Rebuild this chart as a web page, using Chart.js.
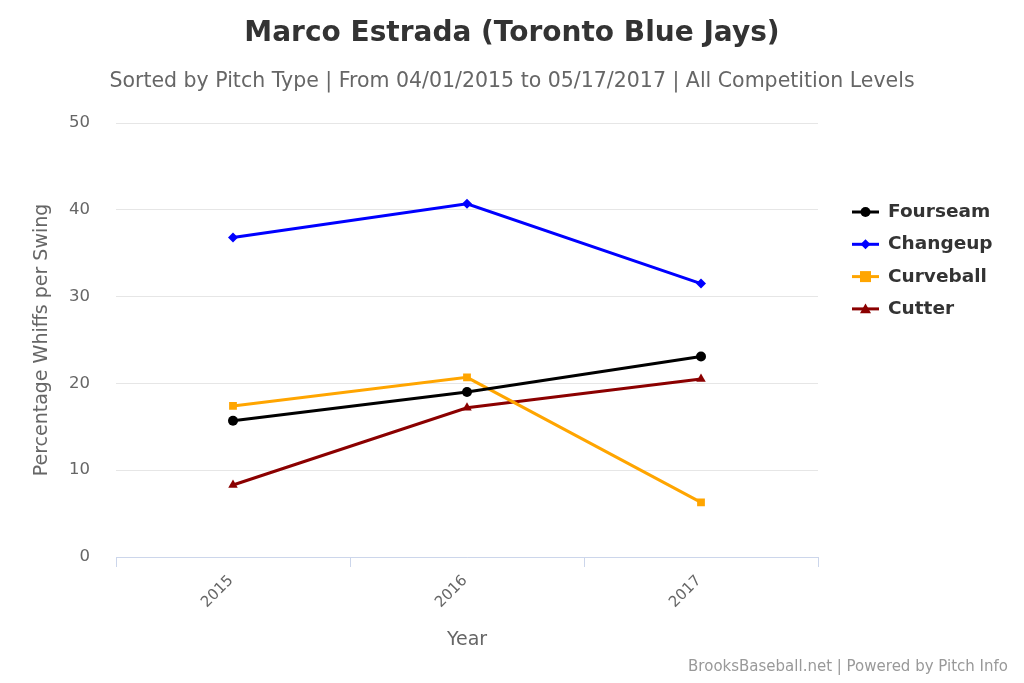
<!DOCTYPE html>
<html><head><meta charset="utf-8">
<script src="https://cdn.jsdelivr.net/npm/chart.js@4/dist/chart.umd.min.js"></script>
<style>
html,body{margin:0;padding:0;background:#fff;}
#wrap{position:relative;width:1024px;height:683px;font-family:"DejaVu Sans",sans-serif;overflow:hidden;}
#c{position:absolute;left:0;top:0;}
.t{position:absolute;white-space:nowrap;}
#title{left:0;width:1024px;top:15px;text-align:center;font-size:28px;font-weight:bold;color:#333;}
#sub{left:0;width:1024px;top:68px;text-align:center;font-size:20.5px;color:#666;}
#credits{right:16px;top:657px;font-size:15px;color:#999;}
.leg{left:888px;font-size:18.5px;font-weight:bold;color:#333;line-height:22px;}
</style></head>
<body><div id="wrap">
<canvas id="c" width="1024" height="683"></canvas>
<div class="t" id="title">Marco Estrada (Toronto Blue Jays)</div>
<div class="t" id="sub">Sorted by Pitch Type | From 04/01/2015 to 05/17/2017 | All Competition Levels</div>
<div class="t" id="credits">BrooksBaseball.net | Powered by Pitch Info</div>
<div id="legend"></div>
</div>
<script>
const years = ['2015', '2016', '2017'];
const fourseam = [15.7, 19.0, 23.1];
const changeup = [36.8, 40.7, 31.5];
const curveball = [17.4, 20.7, 6.3];
const cutter = [8.3, 17.2, 20.5];
const seriesNames = ['Fourseam', 'Changeup', 'Curveball', 'Cutter'];
const seriesColors = ['#000000', '#0000ff', '#ffa500', '#8b0000'];
const seriesShapes = ['circle', 'rectRot', 'rect', 'triangle'];
const seriesRadius = [5, 5, 5.5, 5.5];
const seriesData = [fourseam, changeup, curveball, cutter];
const yTitle = 'Percentage Whiffs per Swing';
const xTitle = 'Year';

const legendTop = 200, legendGap = 32.3;
const legendDiv = document.getElementById('legend');
seriesNames.forEach((n, i) => {
  const d = document.createElement('div');
  d.className = 't leg';
  d.style.top = (legendTop + i * legendGap) + 'px';
  d.textContent = n;
  legendDiv.appendChild(d);
});

function drawMarker(ctx, shape, x, y, r, color) {
  ctx.save();
  ctx.fillStyle = color;
  ctx.beginPath();
  if (shape === 'circle') { ctx.arc(x, y, r, 0, Math.PI * 2); }
  else if (shape === 'rect') { ctx.rect(x - r, y - r, 2 * r, 2 * r); }
  else if (shape === 'rectRot') { ctx.moveTo(x, y - r); ctx.lineTo(x + r, y); ctx.lineTo(x, y + r); ctx.lineTo(x - r, y); ctx.closePath(); }
  else if (shape === 'triangle') { ctx.moveTo(x, y - r); ctx.lineTo(x + r, y + r * 0.8); ctx.lineTo(x - r, y + r * 0.8); ctx.closePath(); }
  ctx.fill();
  ctx.restore();
}

const legendIcons = {
  id: 'legendIcons',
  afterDraw(chart) {
    const ctx = chart.ctx;
    seriesNames.forEach((n, i) => {
      const y = legendTop + 12 + i * legendGap;
      ctx.save();
      ctx.strokeStyle = seriesColors[i];
      ctx.lineWidth = 3;
      ctx.beginPath(); ctx.moveTo(852, y); ctx.lineTo(879, y); ctx.stroke();
      ctx.restore();
      drawMarker(ctx, seriesShapes[i], 865.5, y, seriesRadius[i], seriesColors[i]);
    });
  }
};

new Chart(document.getElementById('c'), {
  type: 'line',
  data: {
    labels: years,
    datasets: seriesNames.map((n, i) => ({
      label: n,
      data: seriesData[i],
      borderColor: seriesColors[i],
      backgroundColor: seriesColors[i],
      borderWidth: 3,
      pointStyle: seriesShapes[i],
      pointRadius: seriesRadius[i],
      pointBorderWidth: 0,
      tension: 0,
      fill: false
    }))
  },
  options: {
    responsive: false,
    animation: false,
    events: [],
    layout: { padding: { left: 31, right: 206, top: 123, bottom: 32 } },
    plugins: { legend: { display: false }, title: { display: false }, tooltip: { enabled: false } },
    scales: {
      x: {
        offset: true,
        grid: { offset: true, drawOnChartArea: false, drawTicks: true, tickLength: 10, color: '#ccd6eb', lineWidth: 1 },
        border: { display: true, color: '#ccd6eb', width: 1 },
        ticks: { autoSkip: false, minRotation: 45, maxRotation: 45, color: '#666', font: { family: 'DejaVu Sans', size: 15 }, padding: 5, labelOffset: -2 },
        title: { display: true, text: xTitle, color: '#666', font: { family: 'DejaVu Sans', size: 19 }, padding: 0 },
        afterFit(s) { s.height = 94; }
      },
      y: {
        min: 0, max: 50,
        ticks: { stepSize: 10, color: '#666', font: { family: 'DejaVu Sans', size: 16.5 }, padding: 26 },
        grid: { color: '#e6e6e6', lineWidth: 1, drawTicks: false },
        border: { display: false },
        title: { display: true, text: yTitle, color: '#666', font: { family: 'DejaVu Sans', size: 19 }, padding: 0 },
        afterFit(s) { s.width = 85; }
      }
    }
  },
  plugins: [legendIcons]
});
</script>
</body></html>
